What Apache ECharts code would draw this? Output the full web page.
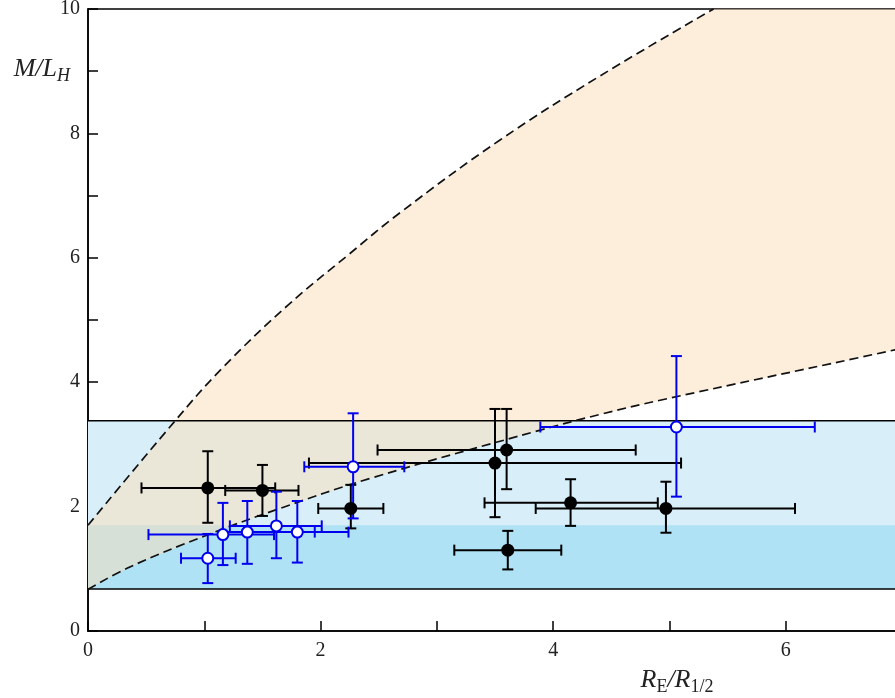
<!DOCTYPE html>
<html><head><meta charset="utf-8">
<script src="https://cdn.jsdelivr.net/npm/echarts@6/dist/echarts.min.js"></script>
<style>html,body{margin:0;padding:0;background:#fff}#c{width:895px;height:698px}</style>
</head><body><div id="c"></div>
<script>
// Horizontal band (blue) limits
const bandLow = 0.675, bandMid = 1.70, bandHigh = 3.38;
// Dashed curves
const upperCurve = [[0,1.70],[0.745,3.37],[1.146,4.21],[1.72,5.24],[2.24,6.05],[2.68,6.72],[3.54,7.89],[4.40,8.92],[5.38,10.0]];
const lowerCurve = [[0,0.67],[0.36,1.03],[1.02,1.54],[1.65,1.97],[2.42,2.45],[3.89,3.23],[4.40,3.48],[4.92,3.71],[6.94,4.52],[7.0,4.55]];
// Black filled points: x, y, x low, x high, y low, y high
const blackX   = [1.03, 1.50, 2.26, 3.50, 3.60, 4.15, 4.97, 3.61];
const blackY   = [2.30, 2.26, 1.97, 2.70, 2.91, 2.06, 1.97, 1.30];
const blackXLo = [0.46, 1.18, 1.98, 1.90, 2.49, 3.41, 3.85, 3.15];
const blackXHi = [1.61, 1.81, 2.54, 5.10, 4.71, 4.90, 6.08, 4.07];
const blackYLo = [1.74, 1.85, 1.65, 1.83, 2.28, 1.69, 1.58, 0.99];
const blackYHi = [2.89, 2.67, 2.35, 3.57, 3.57, 2.44, 2.40, 1.61];
// Blue open points
const blueX   = [2.28, 5.06, 1.03, 1.16, 1.37, 1.62, 1.80];
const blueY   = [2.64, 3.28, 1.17, 1.55, 1.59, 1.69, 1.59];
const blueXLo = [1.86, 3.89, 0.80, 0.52, 1.16, 1.22, 1.38];
const blueXHi = [2.72, 6.25, 1.27, 1.60, 1.95, 2.01, 2.24];
const blueYLo = [1.81, 2.16, 0.77, 1.06, 1.08, 1.17, 1.10];
const blueYHi = [3.50, 4.42, 1.56, 2.06, 2.09, 2.24, 2.09];
const xTicks = [0, 2, 4, 6];
const yTicks = [0, 2, 4, 6, 8, 10];

const FONT = '"Liberation Serif", "DejaVu Serif", serif';
const chart = echarts.init(document.getElementById('c'), null, {renderer: 'canvas'});

function errData(X, Y, XL, XH, YL, YH) {
  return X.map((x, i) => [x, Y[i], XL[i], XH[i], YL[i], YH[i]]);
}
function errRender(color) {
  return function (params, api) {
    const x = api.value(0), y = api.value(1);
    const c = api.coord([x, y]);
    const l = api.coord([api.value(2), y]);
    const r = api.coord([api.value(3), y]);
    const b = api.coord([x, api.value(4)]);
    const t = api.coord([x, api.value(5)]);
    const h = 5.5;
    const st = {stroke: color, lineWidth: 2, fill: null};
    return {type: 'group', children: [
      {type: 'line', shape: {x1: l[0], y1: c[1], x2: r[0], y2: c[1]}, style: st},
      {type: 'line', shape: {x1: l[0], y1: c[1] - h, x2: l[0], y2: c[1] + h}, style: st},
      {type: 'line', shape: {x1: r[0], y1: c[1] - h, x2: r[0], y2: c[1] + h}, style: st},
      {type: 'line', shape: {x1: c[0], y1: b[1], x2: c[0], y2: t[1]}, style: st},
      {type: 'line', shape: {x1: c[0] - h, y1: b[1], x2: c[0] + h, y2: b[1]}, style: st},
      {type: 'line', shape: {x1: c[0] - h, y1: t[1], x2: c[0] + h, y2: t[1]}, style: st}
    ]};
  };
}

const option = {
  animation: false,
  backgroundColor: '#fff',
  grid: {left: 88, top: 9, width: 814, height: 622, outerBoundsMode: 'none', containLabel: false,
    show: true, borderColor: '#000', borderWidth: 1.5, backgroundColor: 'transparent'},
  xAxis: {
    type: 'value', min: 0, max: 7, interval: 1,
    name: '{i|R}{s|E}{i|/R}{s|1/2}', nameLocation: 'middle', nameGap: 34,
    nameTextStyle: {padding: [0, 0, 0, 364], rich: {
      i: {fontFamily: FONT, fontStyle: 'italic', fontSize: 26, color: '#222'},
      s: {fontFamily: FONT, fontSize: 18, color: '#222', padding: [13, 0, 0, 0]}
    }},
    axisLine: {show: true, onZero: false, lineStyle: {color: '#000', width: 1.5}},
    axisTick: {show: true, inside: true, length: 10, lineStyle: {color: '#000', width: 1.5}},
    axisLabel: {fontFamily: FONT, fontSize: 20, color: '#222', margin: 10,
      formatter: v => xTicks.indexOf(v) >= 0 ? String(v) : ''},
    splitLine: {show: false}
  },
  yAxis: {
    type: 'value', min: 0, max: 10, interval: 1,
    name: '{i|M/L}{s|H}', nameLocation: 'end', nameGap: -76,
    nameTextStyle: {align: 'right', padding: [0, 18, 0, 0], rich: {
      i: {fontFamily: FONT, fontStyle: 'italic', fontSize: 26, color: '#222'},
      s: {fontFamily: FONT, fontStyle: 'italic', fontSize: 18, color: '#222', padding: [13, 0, 0, 0]}
    }},
    axisLine: {show: true, onZero: false, lineStyle: {color: '#000', width: 1.5}},
    axisTick: {show: true, inside: true, length: 10, lineStyle: {color: '#000', width: 1.5}},
    axisLabel: {fontFamily: FONT, fontSize: 20, color: '#222', margin: 8,
      formatter: v => yTicks.indexOf(v) >= 0 ? String(v) : ''},
    splitLine: {show: false}
  },
  series: [
    { // blue bands
      type: 'custom', z: 1, silent: true, clip: true,
      data: [[0, bandLow]],
      renderItem: function (params, api) {
        const p0 = api.coord([0, bandHigh]), p1 = api.coord([7, bandLow]);
        const pm = api.coord([0, bandMid]);
        return {type: 'group', children: [
          {type: 'rect', shape: {x: p0[0], y: p0[1], width: p1[0] - p0[0], height: p1[1] - p0[1]}, style: {fill: '#d8eff9'}},
          {type: 'rect', shape: {x: p0[0], y: pm[1], width: p1[0] - p0[0], height: p1[1] - pm[1]}, style: {fill: '#b0e2f5'}}
        ]};
      }
    },
    { // orange region between curves
      type: 'custom', z: 2, silent: true, clip: true,
      data: [[0, 0]],
      renderItem: function (params, api) {
        const pts = [];
        upperCurve.forEach(p => pts.push(api.coord(p)));
        pts.push(api.coord([7, 10]));
        for (let i = lowerCurve.length - 1; i >= 0; i--) pts.push(api.coord(lowerCurve[i]));
        return {type: 'polygon', shape: {points: pts}, style: {fill: 'rgba(251,221,183,0.5)'}};
      }
    },
    { // band boundary lines
      type: 'custom', z: 3, silent: true, clip: true,
      data: [[0, bandLow]],
      renderItem: function (params, api) {
        const a = api.coord([0, bandHigh]), b = api.coord([7, bandHigh]);
        const c = api.coord([0, bandLow]), d = api.coord([7, bandLow]);
        const st = {stroke: '#000', lineWidth: 1.5};
        return {type: 'group', children: [
          {type: 'line', shape: {x1: a[0], y1: a[1], x2: b[0], y2: b[1]}, style: st},
          {type: 'line', shape: {x1: c[0], y1: c[1], x2: d[0], y2: d[1]}, style: st}
        ]};
      }
    },
    {type: 'line', z: 4, data: upperCurve, smooth: 0.4, symbol: 'none', silent: true,
      lineStyle: {color: '#111', width: 1.7, type: [9, 5]}},
    {type: 'line', z: 4, data: lowerCurve, smooth: 0.4, symbol: 'none', silent: true,
      lineStyle: {color: '#111', width: 1.7, type: [9, 5]}},
    {type: 'custom', z: 5, data: errData(blackX, blackY, blackXLo, blackXHi, blackYLo, blackYHi),
      renderItem: errRender('#000'), encode: {x: 0, y: 1}},
    {type: 'custom', z: 5, data: errData(blueX, blueY, blueXLo, blueXHi, blueYLo, blueYHi),
      renderItem: errRender('#0000ee'), encode: {x: 0, y: 1}},
    {type: 'scatter', z: 6, data: blackX.map((x, i) => [x, blackY[i]]), symbol: 'circle', symbolSize: 13,
      itemStyle: {color: '#000', opacity: 1}},
    {type: 'scatter', z: 6, data: blueX.map((x, i) => [x, blueY[i]]), symbol: 'circle', symbolSize: 11,
      itemStyle: {color: '#fff', borderColor: '#0000ee', borderWidth: 2, opacity: 1}}
  ]
};
chart.setOption(option);
</script>
</body></html>
